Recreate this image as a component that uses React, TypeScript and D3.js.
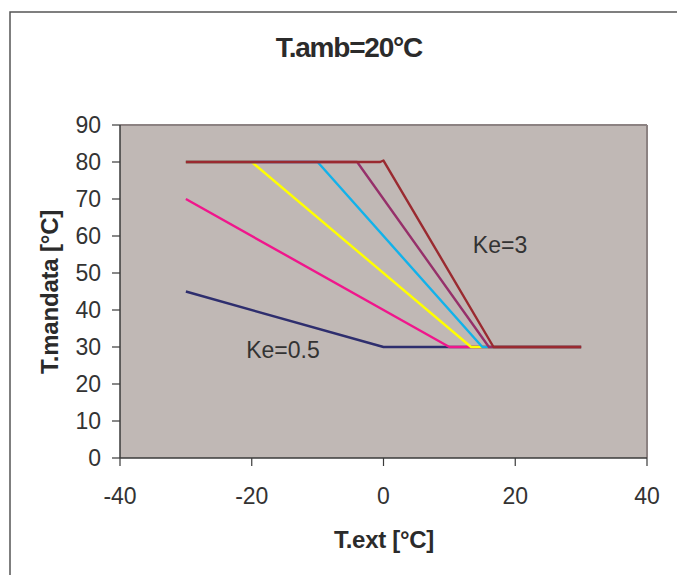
import React from "react";
import * as d3 from "d3";

// ---- data ----
const seriesNames = ["Ke=0.5", "Ke=1", "Ke=1.5", "Ke=2", "Ke=2.5", "Ke=3"];
const ke05X = [-30, 0, 30];
const ke05Y = [45, 30, 30];
const ke1X = [-30, 10, 30];
const ke1Y = [70, 30, 30];
const ke15X = [-30, -20, 13.3, 30];
const ke15Y = [80, 80, 30, 30];
const ke2X = [-30, -10, 15, 30];
const ke2Y = [80, 80, 30, 30];
const ke25X = [-30, -4, 16, 30];
const ke25Y = [80, 80, 30, 30];
const ke3X = [-30, -0.5, 0, 16.7, 30];
const ke3Y = [80, 80, 80.4, 30, 30];
const seriesColors = ["#2E2E6E", "#F0168C", "#FFFF00", "#12B2EA", "#96306A", "#9A2A30"];
const xTicks = [-40, -20, 0, 20, 40];
const yTicks = [0, 10, 20, 30, 40, 50, 60, 70, 80, 90];
const titleText = "T.amb=20\u00b0C";
const xLabel = "T.ext [\u00b0C]";
const yLabel = "T.mandata [\u00b0C]";

const allX = [ke05X, ke1X, ke15X, ke2X, ke25X, ke3X];
const allY = [ke05Y, ke1Y, ke15Y, ke2Y, ke25Y, ke3Y];

export default function App() {
  const W = 677, H = 575;
  const left = 120, right = 647, top = 125, bottom = 458;
  const x = d3.scaleLinear().domain([-40, 40]).range([left, right]);
  const y = d3.scaleLinear().domain([0, 90]).range([bottom, top]);
  const line = d3.line<[number, number]>().x(d => x(d[0])).y(d => y(d[1]));
  const font = "'Liberation Sans', Arial, Helvetica, sans-serif";

  return (
    <svg width={W} height={H} style={{ position: "absolute", left: 0, top: 0, display: "block" }} fontFamily={font}>
      <rect x={0} y={0} width={W} height={H} fill="#ffffff" />
      <rect x={10} y={12} width={W + 40} height={H + 40} fill="#ffffff" stroke="#555555" strokeWidth={1.5} />
      <text x={349} y={57} textAnchor="middle" fontSize={28} fontWeight="bold" fill="#2b2b2b" letterSpacing={-1.2}>{titleText}</text>
      {/* plot area */}
      <rect x={left} y={top} width={right - left} height={bottom - top} fill="#C0B8B5" />
      <line x1={left} y1={top} x2={right} y2={top} stroke="#8C8282" strokeWidth={2} />
      <line x1={right} y1={top} x2={right} y2={bottom} stroke="#8C8282" strokeWidth={2} />
      <line x1={left} y1={top} x2={left} y2={bottom} stroke="#3a3a3a" strokeWidth={1.5} />
      <line x1={left} y1={bottom} x2={right} y2={bottom} stroke="#3a3a3a" strokeWidth={1.5} />
      {yTicks.map(t => (
        <g key={"y" + t}>
          <line x1={left - 8} x2={left} y1={y(t)} y2={y(t)} stroke="#3a3a3a" strokeWidth={1.2} />
          <text x={101} y={y(t)} dy="0.36em" textAnchor="end" fontSize={23} fill="#333">{t}</text>
        </g>
      ))}
      {xTicks.map(t => (
        <g key={"x" + t}>
          <line x1={x(t)} x2={x(t)} y1={bottom} y2={bottom + 8} stroke="#3a3a3a" strokeWidth={1.2} />
          <text x={x(t)} y={504} textAnchor="middle" fontSize={23} fill="#333">{t}</text>
        </g>
      ))}
      {allX.map((xs, i) => (
        <path key={seriesNames[i]} d={line(xs.map((v, j) => [v, allY[i][j]] as [number, number])) || ""}
          fill="none" stroke={seriesColors[i]} strokeWidth={2.4} strokeLinejoin="round" />
      ))}
      <text x={500} y={253} textAnchor="middle" fontSize={23} fill="#333">{seriesNames[5]}</text>
      <text x={283} y={358} textAnchor="middle" fontSize={23} fill="#333">{seriesNames[0]}</text>
      <text x={384} y={548} textAnchor="middle" fontSize={24} fontWeight="bold" fill="#2b2b2b" letterSpacing={-0.3}>{xLabel}</text>
      <text transform={`translate(58,292) rotate(-90)`} textAnchor="middle" fontSize={24} fontWeight="bold" fill="#2b2b2b" letterSpacing={-0.2}>{yLabel}</text>
    </svg>
  );
}
